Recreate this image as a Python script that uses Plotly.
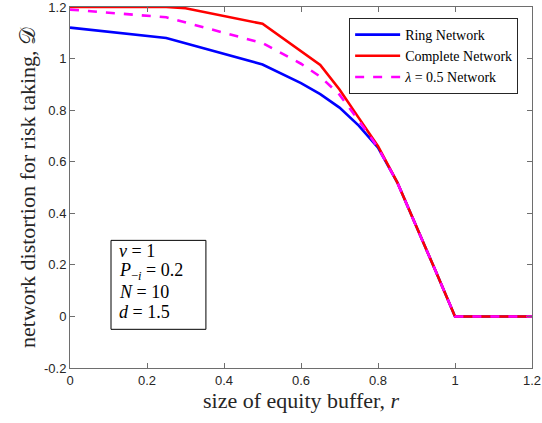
import plotly.graph_objects as go

r_ring = [0, 0.25, 0.5, 0.6, 0.65, 0.7, 0.75, 0.8, 0.85, 0.9, 0.95, 1.0, 1.2]
d_ring = [1.12, 1.08, 0.977, 0.905, 0.862, 0.81, 0.74, 0.655, 0.52, 0.35, 0.175, 0.0, 0.0]

r_complete = [0, 0.25, 0.3, 0.35, 0.5, 0.65, 0.7, 0.75, 0.8, 0.85, 0.9, 0.95, 1.0, 1.2]
d_complete = [1.2, 1.2, 1.195, 1.18, 1.135, 0.975, 0.88, 0.77, 0.66, 0.52, 0.35, 0.175, 0.0, 0.0]

r_lambda = [0, 0.25, 0.5, 0.6, 0.65, 0.7, 0.75, 0.8, 0.85, 0.9, 0.95, 1.0, 1.2]
d_lambda = [1.19, 1.16, 1.06, 0.98, 0.93, 0.86, 0.76, 0.655, 0.52, 0.35, 0.175, 0.0, 0.0]

x_ticks = [0, 0.2, 0.4, 0.6, 0.8, 1.0, 1.2]
x_labels = ["0", "0.2", "0.4", "0.6", "0.8", "1", "1.2"]
y_ticks = [-0.2, 0, 0.2, 0.4, 0.6, 0.8, 1.0, 1.2]
y_labels = ["-0.2", "0", "0.2", "0.4", "0.6", "0.8", "1", "1.2"]

param_lines = ["<i>v</i> = 1",
               "<i>P</i><sub>−<i>i</i></sub> = 0.2",
               "<i>N</i> = 10",
               "<i>d</i> = 1.5"]

serif = "Liberation Serif"
sans = "Liberation Sans"
axcol = "#6e6e6e"

fig = go.Figure()
fig.add_trace(go.Scatter(x=r_ring, y=d_ring, mode="lines", name="Ring Network",
                         line=dict(color="#0000ff", width=2.6)))
fig.add_trace(go.Scatter(x=r_complete, y=d_complete, mode="lines", name="Complete Network",
                         line=dict(color="#ff0000", width=2.6)))
fig.add_trace(go.Scatter(x=r_lambda, y=d_lambda, mode="lines", name="<i>λ</i> = 0.5 Network",
                         line=dict(color="#ff00ff", width=2.6, dash="dash")))

axis_common = dict(showgrid=False, zeroline=False, showline=True, mirror="ticks",
                   linecolor=axcol, linewidth=1, ticks="inside", ticklen=5,
                   tickcolor=axcol, automargin=False, ticklabeloverflow="allow",
                   tickfont=dict(family=sans, size=13, color="#262626"))

fig.update_layout(
    width=542, height=423,
    margin=dict(l=70, r=10, t=7, b=55, autoexpand=False),
    paper_bgcolor="white", plot_bgcolor="white",
    xaxis=dict(range=[0, 1.2], tickvals=x_ticks, ticktext=x_labels,
               title=dict(text="size of equity buffer, <i>r</i>",
                          font=dict(family=serif, size=22, color="#262626"), standoff=3),
               **axis_common),
    yaxis=dict(range=[-0.2, 1.2], tickvals=y_ticks, ticktext=y_labels,
               title=dict(text="network distortion for risk taking, 𝒟",
                          font=dict(family=serif, size=22, color="#262626"), standoff=2),
               **axis_common),
    legend=dict(x=0.97, y=0.9695, xanchor="right", yanchor="top",
                bgcolor="white", bordercolor="#262626", borderwidth=1,
                font=dict(family=serif, size=14, color="black"),
                itemwidth=45, tracegroupgap=0),
    showlegend=True,
)

# parameter box
fig.add_shape(type="rect", xref="x", yref="y", x0=0.1065, x1=0.353, y0=-0.05, y1=0.295,
              line=dict(color="black", width=1), fillcolor="white", layer="above")
line_y = [0.252, 0.174, 0.093, 0.019]
for txt, yy in zip(param_lines, line_y):
    fig.add_annotation(xref="x", yref="y", x=0.121, y=yy, xanchor="left", yanchor="middle",
                       text=txt, showarrow=False,
                       font=dict(family=serif, size=18, color="black"))

fig.write_html("out.html", config={"displayModeBar": False},
               post_script="document.body.style.margin='0';document.body.style.overflow='hidden';")
